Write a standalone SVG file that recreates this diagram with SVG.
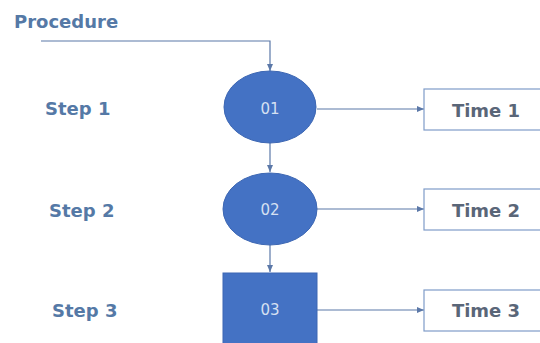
<svg xmlns="http://www.w3.org/2000/svg" width="540" height="343" viewBox="0 0 540 343">
<defs>
<marker id="ah" markerWidth="8" markerHeight="8" refX="7" refY="4" orient="auto" markerUnits="userSpaceOnUse">
<path d="M0,1 L7,4 L0,7 Z" fill="#5b78a8"/>
</marker>
<style>
.lbl{font-family:"DejaVu Sans",Verdana,sans-serif;font-weight:bold;font-size:18px;fill:#5579a6}
.node{fill:#4472c4;stroke:#3d67b3;stroke-width:1}
.ntx{font-family:"DejaVu Sans",Verdana,sans-serif;font-size:15px;fill:#d6e0f2;text-anchor:middle}
.box{fill:#ffffff;stroke:#7f9cc8;stroke-width:1.2}
.btx{font-family:"DejaVu Sans",Verdana,sans-serif;font-weight:bold;font-size:18px;fill:#5a6678;text-anchor:middle}
.con{fill:none;stroke:#5b78a8;stroke-width:1.2;marker-end:url(#ah)}
</style>
</defs>
<rect width="540" height="343" fill="#ffffff"/>
<text class="lbl" x="14" y="28">Procedure</text>
<text class="lbl" x="45" y="115">Step 1</text>
<text class="lbl" x="49" y="217">Step 2</text>
<text class="lbl" x="52" y="317">Step 3</text>
<g id="connectors">
<path class="con" d="M41,41 H270 V71"/>
<path class="con" d="M270,143 V172"/>
<path class="con" d="M270,245 V272"/>
<path class="con" d="M317,109 H424"/>
<path class="con" d="M317,209 H424"/>
<path class="con" d="M317,310 H424"/>
</g>
<g id="n01"><ellipse class="node" cx="270" cy="107" rx="46" ry="36"/><text class="ntx" x="270" y="114">01</text></g>
<g id="n02"><ellipse class="node" cx="270" cy="209" rx="47" ry="36"/><text class="ntx" x="270" y="215">02</text></g>
<g id="n03"><rect class="node" x="223" y="273" width="94" height="72"/><text class="ntx" x="270" y="315">03</text></g>
<g id="t1"><rect class="box" x="424" y="89" width="120" height="41"/><text class="btx" x="486" y="117">Time 1</text></g>
<g id="t2"><rect class="box" x="424" y="189" width="120" height="41"/><text class="btx" x="486" y="217">Time 2</text></g>
<g id="t3"><rect class="box" x="424" y="290" width="120" height="41"/><text class="btx" x="486" y="317">Time 3</text></g>
</svg>
